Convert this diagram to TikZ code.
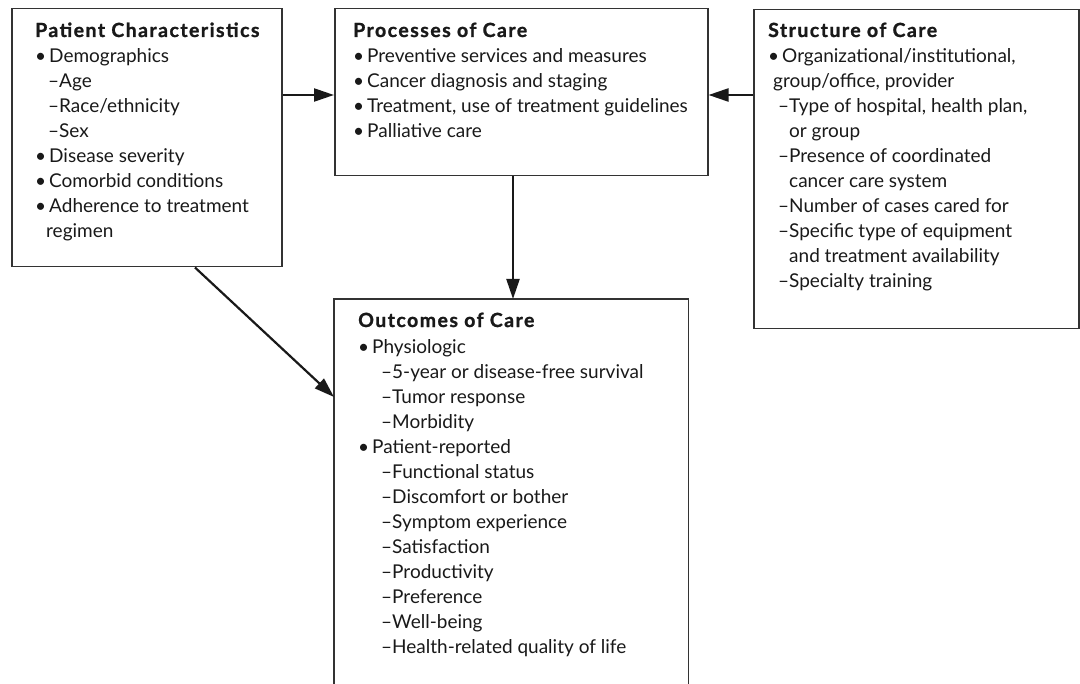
\documentclass[tikz,border=0pt]{standalone}
\usepackage{fontspec}
\setmainfont{Lato}
\newfontfamily\tfont{Lato}[LetterSpace=7.5,FakeBold=1.2]
\usetikzlibrary{arrows.meta}
\newcommand{\bu}{•\kern3pt}
\newcommand{\ind}[1]{\hspace*{#1pt}}
\newcommand{\ttl}[1]{{\tfont\bfseries\fontsize{19.5}{25}\selectfont #1}}
\begin{document}
\begin{tikzpicture}[x=1pt,y=-1pt,
  box/.style={draw=black!80, line width=1.5pt, inner sep=0, anchor=north west},
  txt/.style={anchor=base west, align=left, inner sep=0, font=\fontsize{19}{25}\selectfont, text=black!90},
  arr/.style={draw=black!90, line width=2.2pt, -{Triangle[length=20pt,width=13pt]}}]
\useasboundingbox (0,0) rectangle (1080,684);
% boxes
\node[box, minimum width=270pt, minimum height=258pt] (P) at (11,8) {};
\node[box, minimum width=373pt, minimum height=167pt] (C) at (334,8) {};
\node[box, minimum width=325pt, minimum height=319pt] (S) at (753,9) {};
\node[inner sep=0, anchor=north west, minimum width=354pt, minimum height=400pt] (O) at (334,299) {};
\draw[draw=black!80, line width=1.5pt] (O.south west) -- (O.north west) -- (O.north east) -- (O.south east);
% texts (anchored at the baseline of their last line)
\node[txt] (Pt) at (35,238) {\ttl{Patient Characteristics}\\[1pt]
\bu Demographics\\
\ind{13}–Age\\
\ind{13}–Race/ethnicity\\
\ind{13}–Sex\\
\bu Disease severity\\
\bu Comorbid conditions\\
\bu Adherence to treatment\\
\ind{11}regimen};
\node[txt] (Ct) at (353,138) {\ttl{Processes of Care}\\[1pt]
\bu Preventive services and measures\\
\bu Cancer diagnosis and staging\\
\bu Treatment, use of treatment guidelines\\
\bu Palliative care};
\node[txt] (St) at (768,288) {\ttl{Structure of Care}\\[1pt]
\bu Organizational/institutional,\\
\ind{5}group/office, provider\\
\ind{10}–Type of hospital, health plan,\\
\ind{21}or group\\
\ind{10}–Presence of coordinated\\
\ind{21}cancer care system\\
\ind{10}–Number of cases cared for\\
\ind{10}–Specific type of equipment\\
\ind{21}and treatment availability\\
\ind{10}–Specialty training};
\node[txt] (Ot) at (358,653) {\ttl{Outcomes of Care}\\[1pt]
\bu Physiologic\\
\ind{23}–5-year or disease-free survival\\
\ind{23}–Tumor response\\
\ind{23}–Morbidity\\
\bu Patient-reported\\
\ind{23}–Functional status\\
\ind{23}–Discomfort or bother\\
\ind{23}–Symptom experience\\
\ind{23}–Satisfaction\\
\ind{23}–Productivity\\
\ind{23}–Preference\\
\ind{23}–Well-being\\
\ind{23}–Health-related quality of life};
% connectors
\coordinate (h) at (0,95);
\coordinate (v) at (513,0);
\coordinate (d1) at (195,0);
\coordinate (d2) at (0,397);
\draw[arr] (P.east |- h) -- (C.west |- h);
\draw[arr] (S.west |- h) -- (C.east |- h);
\draw[arr] (C.south -| v) -- (O.north -| v);
\draw[arr] (P.south -| d1) -- (O.west |- d2);
\end{tikzpicture}
\end{document}
